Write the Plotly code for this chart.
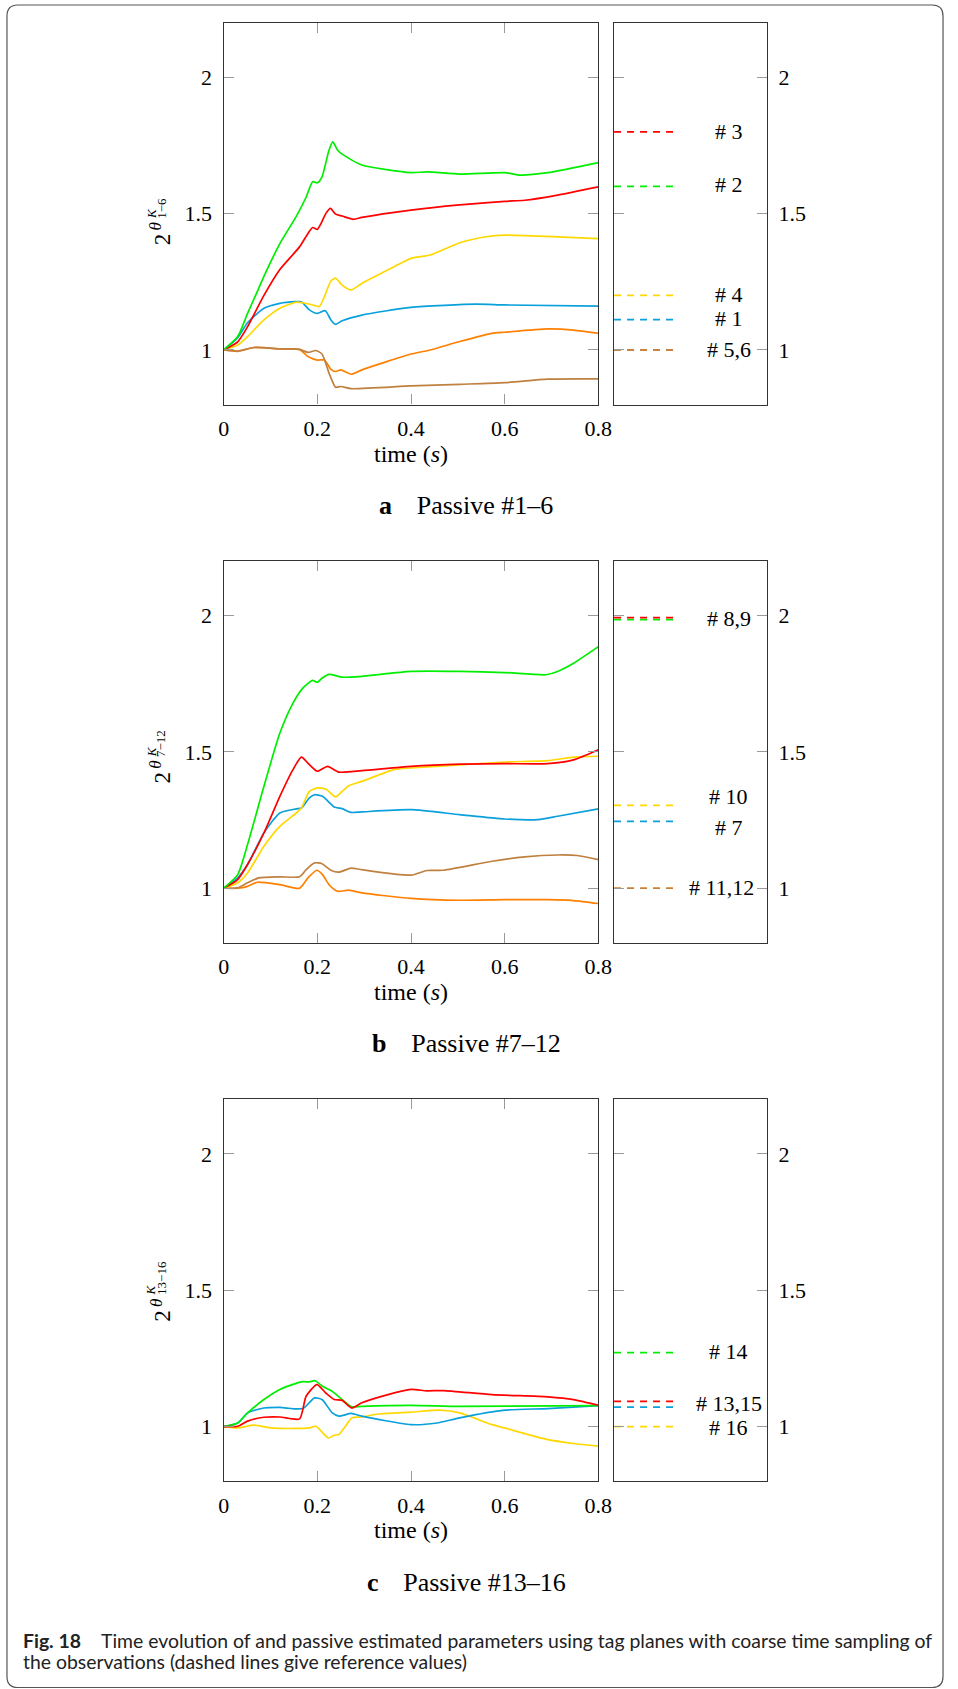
import plotly.graph_objects as go

W, H = 958, 1689
SERIF = "Liberation Serif, Times New Roman, serif"
SANS = "Lato, Roboto, sans-serif"

RED, GREEN, YELLOW, BLUE, ORANGE, BROWN = "#ff0000", "#00ee00", "#ffd800", "#0aa0dc", "#ff8000", "#bf8040"

x_ticks = [0, 0.2, 0.4, 0.6, 0.8]
x_tick_text = ["0", "0.2", "0.4", "0.6", "0.8"]
y_ticks = [1, 1.5, 2]
y_tick_text = ["1", "1.5", "2"]

# ---------------- Panel a : Passive #1-6 ----------------
a1_t = [0, 0.03, 0.051, 0.086, 0.12, 0.155, 0.166, 0.183, 0.2, 0.217, 0.229, 0.239, 0.253, 0.295, 0.4, 0.539, 0.6, 0.8]
a1_v = [1.0, 1.045, 1.1, 1.153, 1.171, 1.177, 1.177, 1.147, 1.134, 1.144, 1.11, 1.094, 1.107, 1.128, 1.156, 1.168, 1.165, 1.161]
a2_t = [0, 0.03, 0.051, 0.072, 0.086, 0.12, 0.155, 0.176, 0.19, 0.2, 0.21, 0.225, 0.233, 0.243, 0.253, 0.295, 0.4, 0.434, 0.504, 0.6, 0.633, 0.692, 0.8]
a2_v = [1.0, 1.049, 1.134, 1.215, 1.27, 1.39, 1.49, 1.56, 1.617, 1.613, 1.635, 1.733, 1.763, 1.733, 1.718, 1.678, 1.65, 1.653, 1.645, 1.65, 1.641, 1.65, 1.687]
a3_t = [0, 0.03, 0.051, 0.086, 0.12, 0.162, 0.18, 0.19, 0.2, 0.208, 0.218, 0.228, 0.239, 0.253, 0.277, 0.295, 0.4, 0.504, 0.6, 0.643, 0.713, 0.8]
a3_v = [1.0, 1.03, 1.085, 1.2, 1.295, 1.378, 1.427, 1.449, 1.442, 1.464, 1.50, 1.519, 1.498, 1.491, 1.479, 1.486, 1.513, 1.532, 1.545, 1.549, 1.568, 1.598]
a4_t = [0, 0.03, 0.051, 0.086, 0.12, 0.155, 0.169, 0.19, 0.204, 0.215, 0.229, 0.239, 0.253, 0.272, 0.295, 0.364, 0.4, 0.441, 0.504, 0.56, 0.6, 0.713, 0.8]
a4_v = [1.0, 1.018, 1.049, 1.11, 1.153, 1.175, 1.173, 1.165, 1.159, 1.195, 1.253, 1.263, 1.238, 1.22, 1.244, 1.305, 1.336, 1.348, 1.393, 1.415, 1.421, 1.415, 1.408]
a5_t = [0, 0.03, 0.065, 0.12, 0.162, 0.18, 0.2, 0.215, 0.229, 0.239, 0.25, 0.272, 0.295, 0.4, 0.441, 0.504, 0.573, 0.6, 0.692, 0.747, 0.8]
a5_v = [1.0, 0.995, 1.009, 1.004, 1.002, 0.976, 0.963, 0.963, 0.929, 0.921, 0.927, 0.911, 0.927, 0.985, 1.0, 1.031, 1.061, 1.065, 1.077, 1.073, 1.061]
a6_t = [0, 0.03, 0.065, 0.12, 0.162, 0.18, 0.197, 0.21, 0.225, 0.239, 0.25, 0.272, 0.4, 0.504, 0.6, 0.692, 0.8]
a6_v = [1.0, 0.996, 1.009, 1.004, 1.002, 0.991, 0.998, 0.985, 0.915, 0.863, 0.866, 0.858, 0.868, 0.874, 0.88, 0.893, 0.894]
a_ref_v = [1.111, 1.6, 1.8, 1.2, 1.0, 1.0]          # #1..#6
a_labels = ["# 3", "# 2", "# 4", "# 1", "# 5,6"]
a_label_y = [1.80, 1.608, 1.205, 1.117, 1.003]

# ---------------- Panel b : Passive #7-12 ----------------
b7_t = [0, 0.03, 0.051, 0.086, 0.12, 0.155, 0.166, 0.183, 0.194, 0.211, 0.236, 0.253, 0.272, 0.295, 0.4, 0.504, 0.6, 0.671, 0.713, 0.8]
b7_v = [1.0, 1.038, 1.087, 1.203, 1.276, 1.291, 1.294, 1.331, 1.343, 1.337, 1.298, 1.292, 1.278, 1.28, 1.288, 1.27, 1.254, 1.252, 1.264, 1.291]
b8_t = [0, 0.03, 0.051, 0.086, 0.12, 0.148, 0.166, 0.183, 0.2, 0.222, 0.246, 0.295, 0.4, 0.504, 0.6, 0.692, 0.747, 0.8]
b8_v = [1.0, 1.032, 1.087, 1.203, 1.337, 1.435, 1.481, 1.453, 1.429, 1.447, 1.426, 1.431, 1.447, 1.455, 1.457, 1.457, 1.471, 1.508]
b9_t = [0, 0.03, 0.051, 0.086, 0.12, 0.148, 0.169, 0.19, 0.2, 0.21, 0.225, 0.253, 0.295, 0.4, 0.504, 0.6, 0.688, 0.713, 0.747, 0.8]
b9_v = [1.0, 1.05, 1.16, 1.374, 1.569, 1.679, 1.734, 1.762, 1.755, 1.77, 1.784, 1.774, 1.777, 1.795, 1.795, 1.791, 1.783, 1.795, 1.825, 1.886]
b10_t = [0, 0.03, 0.051, 0.086, 0.12, 0.155, 0.166, 0.183, 0.2, 0.218, 0.239, 0.253, 0.267, 0.295, 0.364, 0.4, 0.504, 0.6, 0.692, 0.747, 0.8]
b10_v = [1.0, 1.02, 1.056, 1.154, 1.227, 1.276, 1.294, 1.355, 1.368, 1.364, 1.335, 1.355, 1.376, 1.392, 1.435, 1.441, 1.452, 1.463, 1.468, 1.481, 1.484]
b11_t = [0, 0.03, 0.051, 0.075, 0.12, 0.162, 0.176, 0.194, 0.21, 0.229, 0.246, 0.272, 0.295, 0.4, 0.434, 0.469, 0.573, 0.643, 0.713, 0.755, 0.8]
b11_v = [1.0, 1.002, 1.02, 1.038, 1.042, 1.042, 1.068, 1.093, 1.09, 1.066, 1.059, 1.074, 1.068, 1.048, 1.065, 1.066, 1.099, 1.115, 1.122, 1.12, 1.105]
b12_t = [0, 0.03, 0.051, 0.072, 0.12, 0.162, 0.18, 0.199, 0.211, 0.225, 0.243, 0.267, 0.295, 0.4, 0.504, 0.6, 0.692, 0.747, 0.8]
b12_v = [1.0, 1.0, 1.007, 1.022, 1.013, 1.0, 1.038, 1.066, 1.05, 1.013, 0.989, 0.993, 0.983, 0.963, 0.956, 0.958, 0.958, 0.955, 0.944]
b_ref_v = [1.245, 1.992, 1.985, 1.304, 1.0, 1.0]      # #7..#12
b_labels = ["# 8,9", "# 10", "# 7", "# 11,12"]
b_label_y = [1.988, 1.336, 1.222, 1.004]

# ---------------- Panel c : Passive #13-16 ----------------
c13_t = [0, 0.03, 0.051, 0.086, 0.12, 0.162, 0.176, 0.199, 0.218, 0.236, 0.253, 0.274, 0.295, 0.351, 0.4, 0.434, 0.469, 0.573, 0.692, 0.747, 0.8]
c13_v = [1.0, 1.001, 1.02, 1.034, 1.035, 1.028, 1.111, 1.154, 1.123, 1.099, 1.096, 1.068, 1.087, 1.117, 1.136, 1.131, 1.132, 1.117, 1.109, 1.099, 1.078]
c14_t = [0, 0.03, 0.051, 0.086, 0.12, 0.166, 0.183, 0.195, 0.211, 0.232, 0.253, 0.274, 0.295, 0.4, 0.504, 0.8]
c14_v = [1.0, 1.013, 1.05, 1.099, 1.136, 1.164, 1.164, 1.168, 1.148, 1.129, 1.099, 1.072, 1.074, 1.078, 1.074, 1.077]
c15_t = [0, 0.03, 0.051, 0.086, 0.12, 0.169, 0.194, 0.21, 0.232, 0.246, 0.272, 0.295, 0.4, 0.455, 0.504, 0.6, 0.692, 0.8]
c15_v = [1.0, 1.013, 1.05, 1.068, 1.07, 1.066, 1.105, 1.099, 1.05, 1.038, 1.048, 1.038, 1.007, 1.013, 1.032, 1.06, 1.066, 1.077]
c16_t = [0, 0.03, 0.065, 0.1, 0.155, 0.183, 0.197, 0.21, 0.224, 0.236, 0.246, 0.26, 0.274, 0.295, 0.33, 0.4, 0.462, 0.504, 0.573, 0.6, 0.643, 0.692, 0.747, 0.8]
c16_v = [1.0, 0.995, 1.005, 0.995, 0.993, 0.995, 1.001, 0.98, 0.958, 0.968, 0.971, 1.001, 1.032, 1.035, 1.046, 1.053, 1.06, 1.05, 1.007, 0.995, 0.974, 0.952, 0.938, 0.928]
c_ref_v = [1.092, 1.271, 1.071, 1.0]                  # #13..#16
c_labels = ["# 14", "# 13,15", "# 16"]
c_label_y = [1.274, 1.083, 0.995]

panels = [
    dict(series=[(a5_t, a5_v, ORANGE), (a6_t, a6_v, BROWN), (a1_t, a1_v, BLUE), (a4_t, a4_v, YELLOW),
                 (a3_t, a3_v, RED), (a2_t, a2_v, GREEN)],
         refs=[(a_ref_v[4], ORANGE), (a_ref_v[5], BROWN), (a_ref_v[0], BLUE), (a_ref_v[3], YELLOW),
               (a_ref_v[1], GREEN), (a_ref_v[2], RED)],
         labels=a_labels, label_y=a_label_y, sub="1\u22126", cap_letter="a", cap_text="Passive #1\u20136"),
    dict(series=[(b12_t, b12_v, ORANGE), (b11_t, b11_v, BROWN), (b7_t, b7_v, BLUE), (b10_t, b10_v, YELLOW),
                 (b8_t, b8_v, RED), (b9_t, b9_v, GREEN)],
         refs=[(b_ref_v[5], ORANGE), (b_ref_v[4], BROWN), (b_ref_v[0], BLUE), (b_ref_v[3], YELLOW),
               (b_ref_v[2], GREEN), (b_ref_v[1], RED)],
         labels=b_labels, label_y=b_label_y, sub="7\u221212", cap_letter="b", cap_text="Passive #7\u201312"),
    dict(series=[(c16_t, c16_v, YELLOW), (c15_t, c15_v, BLUE), (c14_t, c14_v, GREEN), (c13_t, c13_v, RED)],
         refs=[(c_ref_v[3], YELLOW), (c_ref_v[2], BLUE), (c_ref_v[0], RED), (c_ref_v[1], GREEN)],
         labels=c_labels, label_y=c_label_y, sub="13\u221216", cap_letter="c", cap_text="Passive #13\u201316"),
]

# ---------------- geometry (pixels) ----------------
MAIN_X = (222.3, 605.0)
SIDE_X = (621.0, 777.3)
TOPS = (22.7, 561.0, 1099.3)
PH = 381.8
YR = (0.8, 2.2)


def PX(px):
    return px / W


def PY(py):
    return 1 - py / H


def val_to_py(top, v):
    return top + (YR[1] - v) / (YR[1] - YR[0]) * PH


fig = go.Figure()
annotations = []
shapes = []

frame = dict(showline=True, linecolor="#333333", linewidth=1.3, ticks="inside", ticklen=10, tickwidth=1,
             tickcolor="#9a9a9a", showgrid=False, zeroline=False,
             tickfont=dict(family=SERIF, size=22, color="black"))

for i, pn in enumerate(panels):
    mi, si = 2 * i + 1, 2 * i + 2
    mxr = "x" if mi == 1 else f"x{mi}"
    myr = "y" if mi == 1 else f"y{mi}"
    sxr, syr = f"x{si}", f"y{si}"
    top = TOPS[i]
    ydom = [PY(top + PH), PY(top)]

    fig.layout[f"xaxis{'' if mi == 1 else mi}"] = dict(
        frame, domain=[PX(MAIN_X[0]), PX(MAIN_X[1])], range=[0, 0.8], tickvals=x_ticks,
        ticktext=x_tick_text, anchor=myr, mirror="ticks", ticklabelstandoff=4)
    fig.layout[f"yaxis{'' if mi == 1 else mi}"] = dict(
        frame, domain=ydom, range=list(YR), tickvals=y_ticks, ticktext=y_tick_text,
        anchor=mxr, mirror="ticks", ticklabelstandoff=6)
    fig.layout[f"xaxis{si}"] = dict(
        showline=True, linecolor="#333333", linewidth=1.3, mirror=True, showgrid=False, zeroline=False,
        showticklabels=False, ticks="", domain=[PX(SIDE_X[0]), PX(SIDE_X[1])], range=[0, 1], anchor=syr)
    fig.layout[f"yaxis{si}"] = dict(
        frame, domain=ydom, range=list(YR), tickvals=y_ticks, ticktext=y_tick_text,
        anchor=sxr, side="right", mirror="ticks", ticklabelstandoff=6)

    for t, v, col in pn["series"]:
        fig.add_trace(go.Scatter(x=t, y=v, mode="lines", xaxis=mxr, yaxis=myr,
                                 line=dict(color=col, width=1.7, shape="spline", smoothing=0.6),
                                 showlegend=False, hoverinfo="skip"))
    for v, col in pn["refs"]:
        fig.add_trace(go.Scatter(x=[0, 0.395], y=[v, v], mode="lines", xaxis=sxr, yaxis=syr,
                                 line=dict(color=col, width=1.7, dash="7px,6px"),
                                 showlegend=False, hoverinfo="skip"))
    for lab, ly in zip(pn["labels"], pn["label_y"]):
        annotations.append(dict(text=lab, x=0.75 if lab != "# 11,12" else 0.70, y=ly, xref=sxr, yref=syr,
                                showarrow=False, xanchor="center", yanchor="middle",
                                font=dict(family=SERIF, size=22, color="black")))

    # y-axis title  2^{theta^K_{sub}}
    t15 = val_to_py(top, 1.5)
    annotations.append(dict(text="2", x=PX(160), y=PY(t15 + 26), xref="paper", yref="paper", showarrow=False,
                            textangle=-90, xanchor="center", yanchor="middle",
                            font=dict(family=SERIF, size=23, color="black")))
    annotations.append(dict(text="<i>θ</i>", x=PX(153), y=PY(t15 + 13), xref="paper", yref="paper",
                            showarrow=False, textangle=-90, xanchor="center", yanchor="middle",
                            font=dict(family=SERIF, size=17, color="black")))
    annotations.append(dict(text="<i>K</i>", x=PX(148), y=PY(t15 + 7), xref="paper", yref="paper",
                            showarrow=False, textangle=-90, xanchor="center", yanchor="bottom",
                            font=dict(family=SERIF, size=13, color="black")))
    annotations.append(dict(text=pn["sub"], x=PX(158), y=PY(t15 + 7), xref="paper", yref="paper",
                            showarrow=False, textangle=-90, xanchor="center", yanchor="bottom",
                            font=dict(family=SERIF, size=13, color="black")))

    # x-axis title
    bottom = top + PH
    annotations.append(dict(text="time (<i>s</i>)", x=PX((MAIN_X[0] + MAIN_X[1]) / 2), y=PY(bottom + 49),
                            xref="paper", yref="paper", showarrow=False, xanchor="center", yanchor="middle",
                            font=dict(family=SERIF, size=24, color="black")))
    # sub-figure caption
    annotations.append(dict(text=f"<b>{pn['cap_letter']}</b>\u00a0\u00a0\u00a0\u2009{pn['cap_text']}",
                            x=PX(470), y=PY(bottom + 101), xref="paper", yref="paper", showarrow=False,
                            xanchor="center", yanchor="middle",
                            font=dict(family=SERIF, size=26, color="black")))

# figure caption
annotations.append(dict(text="<b>Fig. 18</b>", x=PX(15), y=PY(1640), xref="paper", yref="paper",
                        showarrow=False, xanchor="left", yanchor="middle",
                        font=dict(family=SANS, size=19.4, color="#222")))
annotations.append(dict(text="Time evolution of and passive estimated parameters using tag planes with coarse time sampling of",
                        x=PX(95), y=PY(1640), xref="paper", yref="paper", showarrow=False, xanchor="left",
                        yanchor="middle", font=dict(family=SANS, size=19.4, color="#222")))
annotations.append(dict(text="the observations (dashed lines give reference values)",
                        x=PX(15), y=PY(1661), xref="paper", yref="paper", showarrow=False, xanchor="left",
                        yanchor="middle", font=dict(family=SANS, size=19.4, color="#222")))

# rounded outer frame
L, T, R, B, r = 1.0, 5.0, 957.0, 1687.5, 11.0
path = (f"M {PX(L + r)},{PY(T)} L {PX(R - r)},{PY(T)} Q {PX(R)},{PY(T)} {PX(R)},{PY(T + r)} "
        f"L {PX(R)},{PY(B - r)} Q {PX(R)},{PY(B)} {PX(R - r)},{PY(B)} "
        f"L {PX(L + r)},{PY(B)} Q {PX(L)},{PY(B)} {PX(L)},{PY(B - r)} "
        f"L {PX(L)},{PY(T + r)} Q {PX(L)},{PY(T)} {PX(L + r)},{PY(T)} Z")
shapes.append(dict(type="path", path=path, xref="paper", yref="paper",
                   line=dict(color="#555555", width=1.2), fillcolor="rgba(0,0,0,0)"))

fig.update_layout(width=W, height=H, autosize=False, margin=dict(l=0, r=0, t=0, b=0),
                  paper_bgcolor="white", plot_bgcolor="white", annotations=annotations, shapes=shapes,
                  showlegend=False)

fig.write_html("out.html", config={"displayModeBar": False},
               post_script="document.body.style.margin='0';document.body.style.overflow='hidden';")
